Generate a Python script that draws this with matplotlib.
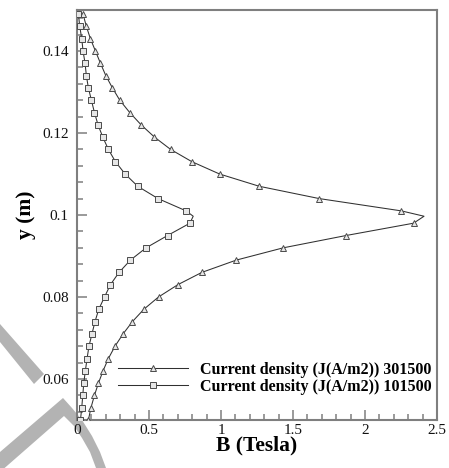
import numpy as np
import matplotlib
matplotlib.use("Agg")
import matplotlib.pyplot as plt
from matplotlib.patches import Polygon
from matplotlib.ticker import MultipleLocator

# y positions of the sampled points (m)
y_grid = [0.050, 0.053, 0.056, 0.059, 0.062, 0.065, 0.068, 0.071, 0.074,
          0.077, 0.080, 0.083, 0.086, 0.089, 0.092, 0.095, 0.098, 0.0997,
          0.101, 0.104, 0.107, 0.110, 0.113, 0.116, 0.119, 0.122, 0.125,
          0.128, 0.131, 0.134, 0.137, 0.140, 0.143, 0.146, 0.149]

# B (Tesla) for J = 301500 A/m2
b_301500 = [0.079, 0.097, 0.121, 0.149, 0.181, 0.218, 0.264, 0.320, 0.385,
            0.464, 0.566, 0.700, 0.867, 1.106, 1.433, 1.869, 2.337, 2.41,
            2.253, 1.683, 1.266, 0.990, 0.798, 0.650, 0.538, 0.445, 0.366,
            0.297, 0.246, 0.200, 0.163, 0.128, 0.093, 0.065, 0.042]

# B (Tesla) for J = 101500 A/m2
b_101500 = [0.024, 0.033, 0.040, 0.047, 0.058, 0.070, 0.083, 0.104, 0.125,
            0.151, 0.191, 0.232, 0.292, 0.371, 0.480, 0.629, 0.784, 0.807,
            0.758, 0.563, 0.422, 0.334, 0.267, 0.218, 0.179, 0.146, 0.121,
            0.100, 0.079, 0.065, 0.056, 0.042, 0.033, 0.019, 0.010]

labels = ["Current density (J(A/m2)) 301500",
          "Current density (J(A/m2)) 101500"]

# markers on every sampled point except the interpolated tip
peak_idx = 17
mark_idx = [i for i in range(len(y_grid)) if i != peak_idx]

plt.rcParams['font.family'] = ['Liberation Serif', 'DejaVu Serif']

W, H = 449, 468
fig = plt.figure(figsize=(W / 100, H / 100), dpi=100)
ax = fig.add_axes([77 / W, 1 - 420 / H, 360 / W, 410 / H])
ax.set_facecolor('none')

gray = '#7f7f7f'
ax.plot(b_301500, y_grid, color='#303030', lw=0.75, marker='^', ms=4.8,
        mfc='#e6e6e6', mec='#4a4a4a', mew=0.7, markevery=mark_idx,
        label=labels[0], zorder=3)
ax.plot(b_101500, y_grid, color='#303030', lw=0.75, marker='s', ms=4.8,
        mfc='#e6e6e6', mec='#4a4a4a', mew=0.7, markevery=mark_idx,
        label=labels[1], zorder=3)

ax.set_xlim(0, 2.5)
ax.set_ylim(0.05, 0.15)
ax.xaxis.set_major_locator(MultipleLocator(0.5))
ax.xaxis.set_minor_locator(MultipleLocator(0.1))
ax.yaxis.set_major_locator(MultipleLocator(0.02))
ax.yaxis.set_minor_locator(MultipleLocator(0.004))
ax.xaxis.set_major_formatter(plt.FuncFormatter(lambda v, p: f"{v:g}"))
ax.yaxis.set_major_formatter(plt.FuncFormatter(lambda v, p: f"{v:g}"))

for s in ax.spines.values():
    s.set_color(gray)
    s.set_linewidth(1.5)
ax.tick_params(which='both', direction='in', color=gray, width=1.1,
               top=False, right=False, labelsize=11, labelcolor='#111111')
ax.tick_params(which='major', length=7)
ax.tick_params(which='minor', length=4)
ax.tick_params(axis='y', which='major', pad=6)
ax.tick_params(axis='x', which='major', pad=3)

ax.set_xlabel('B (Tesla)', fontsize=15.5, fontweight='bold', labelpad=-1)
ax.set_ylabel('y (m)', fontsize=15.5, fontweight='bold', labelpad=4)

leg = ax.legend(loc='upper left', bbox_to_anchor=(41 / 360, 1 - 352 / 410),
                frameon=False, numpoints=1, handlelength=4.4,
                handletextpad=0.75, labelspacing=0.05, borderpad=0,
                borderaxespad=0,
                prop={'family': 'Liberation Serif', 'weight': 'bold',
                      'size': 11.5})

# light gray stamp strokes in the lower-left corner
def px(pts):
    return [(x / W, 1 - y / H) for x, y in pts]

stamp = '#b3b3b3'
fig.patches.append(Polygon(px([(0, 324), (0, 342), (34, 384), (44, 374)]),
                           closed=True, transform=fig.transFigure,
                           facecolor=stamp, edgecolor='none', zorder=-1))
fig.patches.append(Polygon(px([(0, 452), (63, 398), (72, 408), (82, 420),
                               (92, 436), (100, 452), (106, 468), (96, 468),
                               (90, 452), (82, 438), (74, 426), (64, 416),
                               (0, 472)]),
                           closed=True, transform=fig.transFigure,
                           facecolor=stamp, edgecolor='none', zorder=-1))

fig.savefig('out.png', dpi=100)
